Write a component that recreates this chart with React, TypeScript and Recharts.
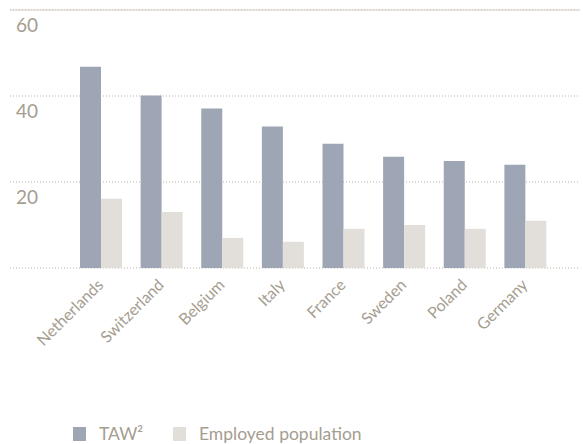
import { Bar, BarChart, CartesianGrid, ReferenceLine, XAxis, YAxis } from "recharts";

const countries = ["Netherlands", "Switzerland", "Belgium", "Italy", "France", "Sweden", "Poland", "Germany"];
const taw = [46.8, 40.1, 37.1, 32.9, 28.9, 25.9, 24.9, 24.0];
const employed = [16.1, 13.0, 7.0, 6.1, 9.1, 10.0, 9.1, 11.0];
const yTicks = [0, 20, 40, 60];

const data = countries.map((country, i) => ({
  country,
  taw: taw[i],
  employed: employed[i],
}));

const TEXT = "#a59d90";
const GRID = "#bdb5a6";
const FONT = "Lato, 'Open Sans', sans-serif";

const renderYTick = ({ y, payload }: any) => {
  if (payload.value === 0) return <g />;
  return (
    <text x={16} y={y + 22} fill={TEXT} fontSize={19} fontFamily={FONT}>
      {payload.value}
    </text>
  );
};

const renderXTick = ({ x, y, payload }: any) => {
  const ax = x + 3;
  const ay = y + 10;
  return (
    <text
      x={ax}
      y={ay}
      transform={`rotate(-45, ${ax}, ${ay})`}
      textAnchor="end"
      fill={TEXT}
      fontSize={16}
      fontFamily={FONT}
    >
      {payload.value}
    </text>
  );
};

const sq = (color: string, left: number) => (
  <span
    style={{ position: "absolute", left, top: 3, width: 13, height: 14, background: color }}
  />
);

export default function App() {
  return (
    <div style={{ position: "absolute", left: 0, top: 0, width: 583, height: 444, background: "#fff" }}>
      <BarChart
        width={583}
        height={444}
        data={data}
        margin={{ top: 10, right: 3, bottom: 96, left: 0 }}
        barSize={21}
        barGap={0}
      >
        <CartesianGrid vertical={false} stroke={GRID} strokeDasharray="1 2" />
        {/* the dotted grid line at the top edge doesn't show, so draw the 60 line here */}
        <ReferenceLine y={60} stroke="#d5cfc4" strokeWidth={1} ifOverflow="visible" />
        <XAxis
          dataKey="country"
          axisLine={false}
          tickLine={false}
          interval={0}
          height={80}
          padding={{ left: 61, right: 24 }}
          tick={renderXTick}
        />
        <YAxis
          domain={[0, 60]}
          ticks={yTicks}
          width={10}
          interval={0}
          axisLine={false}
          tickLine={false}
          tick={renderYTick}
        />
        <Bar dataKey="taw" fill="#9ea5b4" isAnimationActive={false} />
        <Bar dataKey="employed" fill="#e2dfda" isAnimationActive={false} />
      </BarChart>
      <div
        style={{
          position: "absolute",
          top: 424,
          left: 0,
          width: 583,
          height: 20,
          fontFamily: FONT,
          fontSize: 17.5,
          color: TEXT,
          lineHeight: "20px",
        }}
      >
        {sq("#9ea5b4", 73)}
        <span style={{ position: "absolute", left: 99, top: 0 }}>TAW²</span>
        {sq("#e2dfda", 173)}
        <span style={{ position: "absolute", left: 199, top: 0 }}>Employed population</span>
      </div>
    </div>
  );
}
